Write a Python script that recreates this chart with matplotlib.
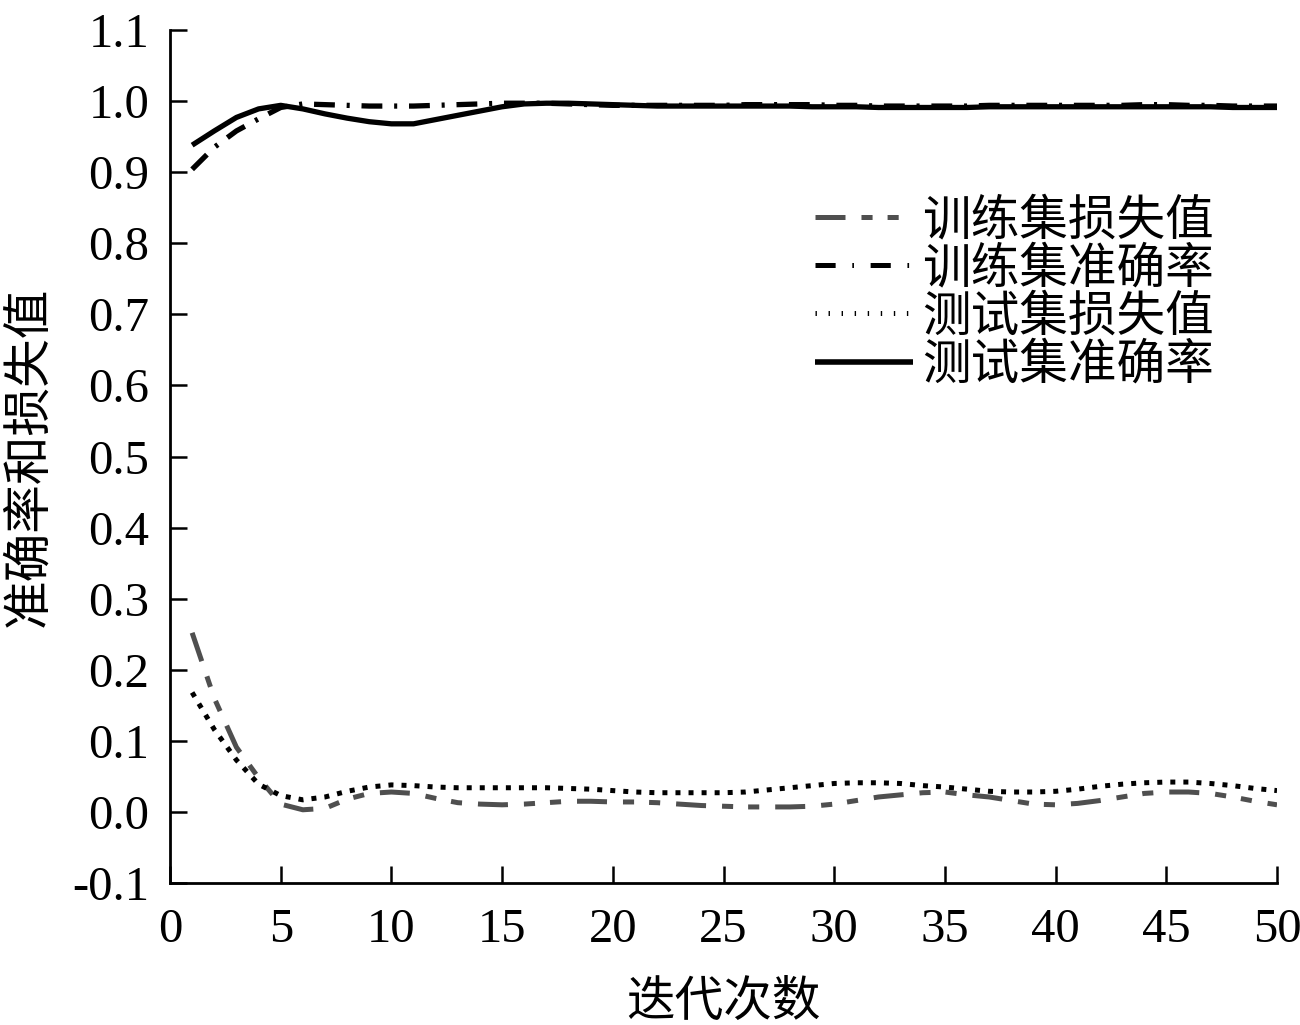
import matplotlib
matplotlib.use("Agg")
import matplotlib.pyplot as plt
from matplotlib.lines import Line2D

plt.rcParams['font.family'] = ['Liberation Serif', 'Noto Sans CJK SC', 'DejaVu Sans']
plt.rcParams['lines.scale_dashes'] = False

epochs = list(range(1, 51))

train_loss = [0.252, 0.160, 0.091, 0.048, 0.011, 0.003, 0.005, 0.018, 0.026, 0.028,
              0.026, 0.019, 0.013, 0.011, 0.010, 0.011, 0.013, 0.015, 0.015, 0.014,
              0.014, 0.013, 0.011, 0.009, 0.008, 0.007, 0.007, 0.007, 0.008, 0.011,
              0.016, 0.021, 0.024, 0.027, 0.028, 0.024, 0.021, 0.016, 0.011, 0.010,
              0.012, 0.016, 0.021, 0.026, 0.028, 0.028, 0.026, 0.021, 0.015, 0.010]

train_acc = [0.904, 0.935, 0.958, 0.975, 0.991, 0.996, 0.995, 0.994, 0.993, 0.993,
             0.993, 0.994, 0.995, 0.996, 0.997, 0.997, 0.997, 0.996, 0.995, 0.994,
             0.994, 0.994, 0.994, 0.994, 0.994, 0.995, 0.995, 0.995, 0.995, 0.994,
             0.994, 0.993, 0.993, 0.993, 0.993, 0.993, 0.994, 0.994, 0.994, 0.994,
             0.994, 0.994, 0.994, 0.995, 0.995, 0.994, 0.994, 0.993, 0.993, 0.993]

test_loss = [0.168, 0.116, 0.073, 0.039, 0.023, 0.017, 0.021, 0.029, 0.035, 0.038,
             0.037, 0.035, 0.034, 0.034, 0.034, 0.034, 0.034, 0.033, 0.032, 0.030,
             0.028, 0.027, 0.027, 0.027, 0.027, 0.028, 0.031, 0.034, 0.037, 0.040,
             0.041, 0.041, 0.040, 0.037, 0.035, 0.032, 0.029, 0.028, 0.028, 0.029,
             0.032, 0.036, 0.039, 0.041, 0.042, 0.042, 0.040, 0.037, 0.033, 0.030]

test_acc = [0.938, 0.958, 0.977, 0.989, 0.994, 0.989, 0.982, 0.976, 0.971, 0.968,
            0.968, 0.974, 0.980, 0.986, 0.992, 0.996, 0.997, 0.997, 0.996, 0.995,
            0.994, 0.993, 0.993, 0.993, 0.993, 0.993, 0.993, 0.993, 0.992, 0.992,
            0.992, 0.991, 0.991, 0.991, 0.991, 0.991, 0.992, 0.992, 0.992, 0.992,
            0.992, 0.992, 0.992, 0.992, 0.992, 0.992, 0.992, 0.991, 0.991, 0.991]

labels = ['训练集损失值', '训练集准确率', '测试集损失值', '测试集准确率']
x_ticks = list(range(0, 51, 5))
y_ticks = [-0.1, 0.0, 0.1, 0.2, 0.3, 0.4, 0.5, 0.6, 0.7, 0.8, 0.9, 1.0, 1.1]

gray = '#4f4f4f'
fig = plt.figure(figsize=(13, 10.25), dpi=100)
ax = fig.add_axes([170/1300, 142/1025, 1107/1300, 853/1025])

ax.plot(epochs, train_loss, color=gray, lw=3.6, dashes=(21.6, 11.5, 8, 10.8, 8, 11.5),
        solid_capstyle='butt', dash_capstyle='butt')
ax.plot(epochs, train_acc, color='black', lw=3.8, dashes=(15, 8.5, 2.2, 8.5),
        dash_capstyle='butt')
ax.plot(epochs, test_loss, color='black', lw=3.6, dashes=(3.6, 5.8),
        dash_capstyle='butt')
ax.plot(epochs, test_acc, color='black', lw=3.8, solid_capstyle='butt')

handles = [
    Line2D([], [], color=gray, lw=3.6, dashes=(21.6, 11.5, 8, 10.8, 8, 11.5), dash_capstyle='butt'),
    Line2D([], [], color='black', lw=3.6, dashes=(14.5, 12, 1.2, 12), dash_capstyle='butt'),
    Line2D([], [], color='black', lw=3.6, dashes=(1.0, 8.4), dash_capstyle='butt'),
    Line2D([], [], color='black', lw=4.0, solid_capstyle='butt'),
]
leg = ax.legend(handles, labels, loc='upper left', bbox_to_anchor=(0.583, 0.803),
                frameon=False, fontsize=35, handlelength=2.0, handletextpad=0.2,
                labelspacing=0.05, borderpad=0, borderaxespad=0)

ax.set_xlim(0, 50)
ax.set_ylim(-0.1, 1.1)
ax.set_xticks(x_ticks)
ax.set_xticklabels([str(v) for v in x_ticks])
ax.set_yticks(y_ticks)
ax.set_yticklabels([f'{v:.1f}' for v in y_ticks])

for s in ['top', 'right']:
    ax.spines[s].set_visible(False)
for s in ['left', 'bottom']:
    ax.spines[s].set_linewidth(2.0)

ax.tick_params(axis='both', direction='in', length=12, width=1.8, labelsize=35)
ax.tick_params(axis='y', pad=15)
ax.tick_params(axis='x', pad=18)

ax.set_xlabel('迭代次数', fontsize=35, labelpad=21)
ax.set_ylabel('准确率和损失值', fontsize=35, labelpad=14)

fig.savefig('out.png', dpi=100)
